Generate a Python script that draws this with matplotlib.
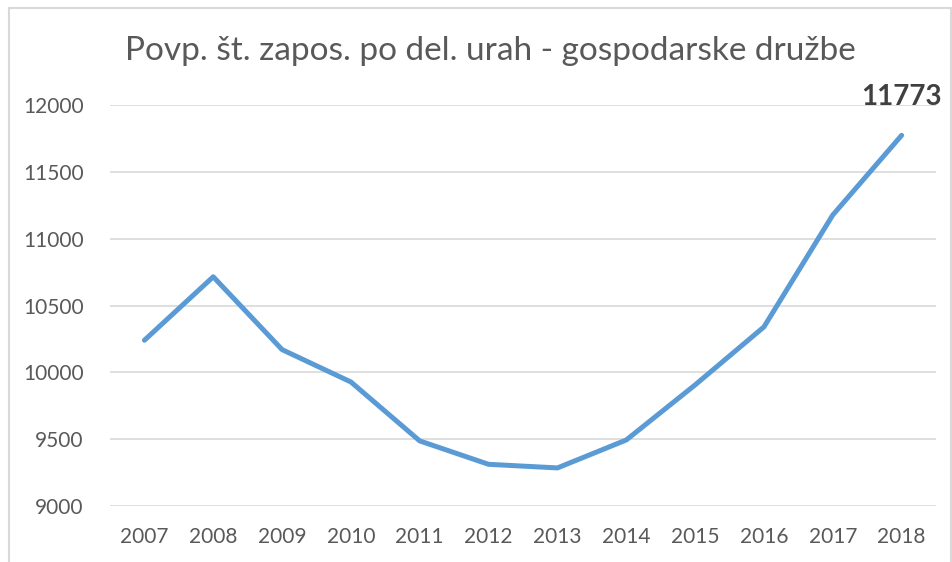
import matplotlib.pyplot as plt
from matplotlib.patches import Rectangle

years = ['2007', '2008', '2009', '2010', '2011', '2012',
         '2013', '2014', '2015', '2016', '2017', '2018']
employees = [10240, 10715, 10170, 9928, 9487, 9312,
             9285, 9494, 9906, 10340, 11177, 11773]
y_ticks = [9000, 9500, 10000, 10500, 11000, 11500, 12000]

LINE_COLOR = '#5B9BD5'
TEXT_COLOR = '#595959'
GRID_COLOR = '#D9D9D9'

plt.rcParams['font.family'] = ['Lato', 'DejaVu Sans']

fig = plt.figure(figsize=(9.53, 5.62), dpi=100)
ax = fig.add_axes([0.1154, 0.0996, 0.8668, 0.7136])

x = list(range(len(years)))
ax.plot(x, employees, color=LINE_COLOR, lw=3.6, solid_capstyle='round',
        solid_joinstyle='round', zorder=3)

ax.set_xlim(-0.5, len(years) - 0.5)
ax.set_ylim(9000, 12000)
ax.set_yticks(y_ticks)
ax.set_xticks(x)
ax.set_xticklabels(years)
ax.tick_params(axis='both', length=0, labelsize=15, colors=TEXT_COLOR)
ax.tick_params(axis='y', pad=19)
ax.tick_params(axis='x', pad=15)
ax.grid(axis='y', color=GRID_COLOR, lw=1.2)
ax.set_axisbelow(True)
for s in ax.spines.values():
    s.set_visible(False)

# value label on last point
ax.annotate(f'{employees[-1]}', (x[-1], employees[-1]), xytext=(0, 18),
            textcoords='offset points', ha='center', va='bottom',
            fontsize=20, fontweight='bold', color='#404040', clip_on=False)

fig.text(0.515, 0.91, 'Povp. št. zapos. po del. urah - gospodarske družbe',
         ha='center', va='center', fontsize=24, color=TEXT_COLOR)

# chart frame
fig.patches.append(Rectangle((9 / 953, -0.05), 942 / 953, 1 - 8 / 562 + 0.05,
                             transform=fig.transFigure, fill=False,
                             edgecolor='#D9D9D9', lw=1.5))

fig.savefig('out.png', dpi=100)
